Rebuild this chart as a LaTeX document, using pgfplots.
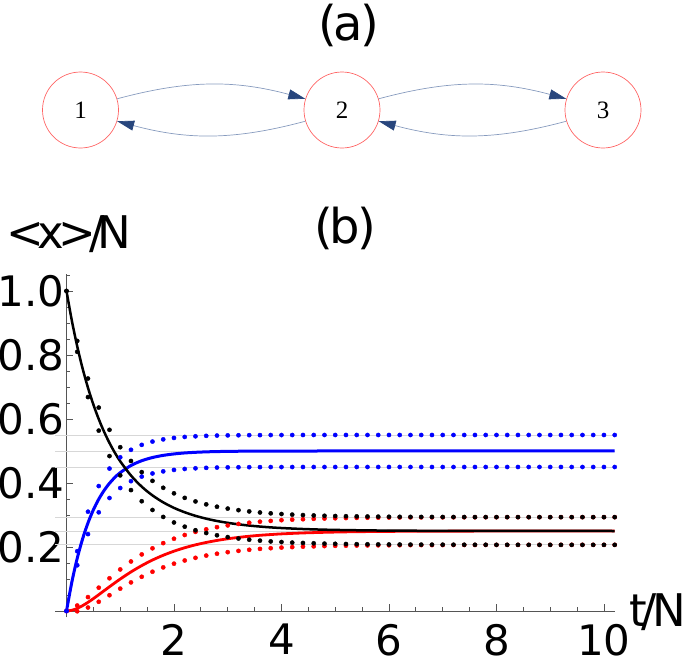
\documentclass[border=0pt]{standalone}
\usepackage{fontspec}
\setmainfont{DejaVu Sans}
\newfontfamily\nodefont{Liberation Serif}
\usepackage{pgfplots}
\pgfplotsset{compat=1.18}
\usepackage{pgfplotstable}
\usetikzlibrary{arrows.meta}

\definecolor{edgeline}{RGB}{135,155,190}
\definecolor{edgehead}{RGB}{40,70,125}
\definecolor{ring}{RGB}{255,100,100}
\definecolor{gridgray}{RGB}{215,215,215}
\definecolor{axisgray}{RGB}{85,85,85}

% mean occupation of the three states
\pgfplotstableread{
t    p1     p2     p3
0.0  1.0000 0.0000 0.0000
0.1  0.9071 0.0906 0.0023
0.2  0.8269 0.1649 0.0082
0.3  0.7576 0.2256 0.0168
0.4  0.6975 0.2753 0.0272
0.5  0.6452 0.3161 0.0387
0.6  0.5997 0.3494 0.0509
0.7  0.5600 0.3767 0.0634
0.8  0.5251 0.3991 0.0758
0.9  0.4946 0.4174 0.0880
1.0  0.4678 0.4323 0.0999
1.2  0.4233 0.4547 0.1221
1.4  0.3885 0.4696 0.1419
1.6  0.3612 0.4796 0.1593
1.8  0.3395 0.4863 0.1742
2.0  0.3222 0.4908 0.1869
2.2  0.3085 0.4939 0.1977
2.4  0.2974 0.4959 0.2067
2.6  0.2885 0.4973 0.2142
2.8  0.2813 0.4982 0.2205
3.0  0.2755 0.4988 0.2257
3.2  0.2708 0.4992 0.2300
3.4  0.2670 0.4995 0.2336
3.6  0.2639 0.4996 0.2366
3.8  0.2613 0.4998 0.2389
4.0  0.2593 0.4998 0.2410
4.4  0.2562 0.4999 0.2439
4.8  0.2541 0.5000 0.2459
5.2  0.2528 0.5000 0.2473
5.6  0.2519 0.5000 0.2482
6.0  0.2512 0.5000 0.2488
6.5  0.2508 0.5000 0.2492
7.0  0.2505 0.5000 0.2495
8.0  0.2502 0.5000 0.2498
9.0  0.2501 0.5000 0.2499
10.2 0.2500 0.5000 0.2500
}\means

% mean +/- one standard deviation (k = state 1, b = state 2, r = state 3)
\pgfplotstableread{
t    ku     kl     bu     bl     ru     rl
0.0  1.0000 1.0000 0.0000 0.0000 0.0000 0.0000
0.2  0.8439 0.8099 0.1869 0.1429 0.0172 -0.0008
0.4  0.7265 0.6685 0.3103 0.2403 0.0435 0.0109
0.6  0.6357 0.5637 0.3904 0.3084 0.0729 0.0289
0.8  0.5661 0.4841 0.4451 0.3531 0.1023 0.0493
1.0  0.5118 0.4238 0.4803 0.3843 0.1299 0.0699
1.2  0.4688 0.3778 0.5037 0.4057 0.1548 0.0894
1.4  0.4340 0.3430 0.5191 0.4201 0.1768 0.1070
1.6  0.4067 0.3157 0.5294 0.4298 0.1959 0.1227
1.8  0.3850 0.2940 0.5363 0.4363 0.2121 0.1363
2.0  0.3677 0.2767 0.5408 0.4408 0.2259 0.1479
2.2  0.3535 0.2635 0.5439 0.4439 0.2375 0.1579
2.4  0.3424 0.2524 0.5459 0.4459 0.2472 0.1662
2.6  0.3333 0.2437 0.5473 0.4473 0.2552 0.1732
2.8  0.3259 0.2367 0.5482 0.4482 0.2620 0.1790
3.0  0.3200 0.2310 0.5488 0.4488 0.2675 0.1839
3.2  0.3151 0.2265 0.5492 0.4492 0.2721 0.1879
3.4  0.3112 0.2228 0.5495 0.4495 0.2759 0.1913
3.6  0.3079 0.2199 0.5496 0.4496 0.2791 0.1941
3.8  0.3052 0.2174 0.5498 0.4498 0.2815 0.1963
4.0  0.3031 0.2155 0.5498 0.4498 0.2838 0.1982
4.2  0.3012 0.2138 0.5499 0.4499 0.2855 0.1997
4.4  0.2998 0.2126 0.5500 0.4500 0.2868 0.2010
4.6  0.2986 0.2116 0.5500 0.4500 0.2880 0.2020
4.8  0.2976 0.2106 0.5500 0.4500 0.2890 0.2028
5.0  0.2968 0.2100 0.5500 0.4500 0.2898 0.2036
5.2  0.2962 0.2094 0.5500 0.4500 0.2905 0.2041
5.4  0.2957 0.2089 0.5500 0.4500 0.2910 0.2046
5.6  0.2953 0.2085 0.5500 0.4500 0.2914 0.2050
5.8  0.2949 0.2081 0.5500 0.4500 0.2918 0.2053
6.0  0.2945 0.2079 0.5500 0.4500 0.2921 0.2055
6.2  0.2943 0.2077 0.5500 0.4500 0.2923 0.2057
6.4  0.2941 0.2075 0.5500 0.4500 0.2925 0.2059
6.6  0.2940 0.2074 0.5500 0.4500 0.2926 0.2060
6.8  0.2939 0.2073 0.5500 0.4500 0.2927 0.2061
7.0  0.2938 0.2072 0.5500 0.4500 0.2928 0.2062
7.2  0.2937 0.2071 0.5500 0.4500 0.2929 0.2063
7.4  0.2936 0.2070 0.5500 0.4500 0.2930 0.2064
7.6  0.2935 0.2069 0.5500 0.4500 0.2930 0.2064
7.8  0.2935 0.2069 0.5500 0.4500 0.2931 0.2065
8.0  0.2934 0.2068 0.5500 0.4500 0.2931 0.2065
8.2  0.2934 0.2068 0.5500 0.4500 0.2932 0.2066
8.4  0.2934 0.2068 0.5500 0.4500 0.2932 0.2066
8.6  0.2933 0.2067 0.5500 0.4500 0.2932 0.2066
8.8  0.2933 0.2067 0.5500 0.4500 0.2932 0.2066
9.0  0.2933 0.2067 0.5500 0.4500 0.2933 0.2067
9.2  0.2933 0.2067 0.5500 0.4500 0.2933 0.2067
9.4  0.2933 0.2067 0.5500 0.4500 0.2933 0.2067
9.6  0.2933 0.2067 0.5500 0.4500 0.2933 0.2067
9.8  0.2933 0.2067 0.5500 0.4500 0.2933 0.2067
10.0 0.2933 0.2067 0.5500 0.4500 0.2933 0.2067
10.2 0.2933 0.2067 0.5500 0.4500 0.2933 0.2067
}\bands

\begin{document}
\begin{tikzpicture}
\path[use as bounding box] (0pt,0pt) rectangle (685pt,-662pt);

% (a): the three-state chain
\node[anchor=base,inner sep=0pt,font=\fontsize{48}{48}\selectfont] at (348.5pt,-40.7pt) {(\kern-3pt a\kern-3pt)};
\tikzset{state/.style={circle,draw=ring,line width=0.7pt,minimum size=76pt,inner sep=0pt,font=\nodefont\fontsize{25}{25}\selectfont}}
\node[state] (n1) at (80.5pt,-110pt) {1};
\node[state] (n2) at (342pt,-110pt) {2};
\node[state] (n3) at (603pt,-110pt) {3};
\tikzset{edge/.style={draw=edgeline,line width=0.7pt,-{Triangle[length=17pt,width=10pt,color=edgehead]}}}
\draw[edge] (n1.17) to[bend left=15] (n2.163);
\draw[edge] (n2.197) to[bend left=15] (n1.343);
\draw[edge] (n2.17) to[bend left=15] (n3.163);
\draw[edge] (n3.197) to[bend left=15] (n2.343);

% (b)
\node[anchor=base,inner sep=0pt,font=\fontsize{48}{48}\selectfont] at (345pt,-243.7pt) {(\kern-3pt b\kern-3pt)};
\node[anchor=base west,inner sep=0pt,font=\fontsize{45}{45}\selectfont] at (6.5pt,-248pt) {<\kern-6.5pt x\kern-6.5pt >\kern-6.5pt /\kern-6.5pt N};
\node[anchor=base west,inner sep=0pt,font=\fontsize{45}{45}\selectfont] at (629pt,-626pt) {t\kern-5pt /\kern-5pt N};

\begin{axis}[
  at={(55.2pt,-617.4pt)}, anchor=south west,
  scale only axis, width=559.5pt, height=343.4pt,
  xmin=-0.21, xmax=10.2, ymin=-0.02, ymax=1.053,
  axis lines=middle,
  axis line style={draw=axisgray,line width=0.9pt,-},
  clip=false,
  xtick={2,4,6,8,10}, xticklabels={2,4,6,8,10},
  ytick={0.2,0.4,0.6,0.8,1.0}, yticklabels={0.2,0.4,0.6,0.8,1.0},
  minor xtick={0.5,1,1.5,2.5,3,3.5,4.5,5,5.5,6.5,7,7.5,8.5,9,9.5},
  minor ytick={0.05,0.1,0.15,0.25,0.3,0.35,0.45,0.5,0.55,0.65,0.7,0.75,0.85,0.9,0.95,1.05},
  tick align=inside,
  major tick length=7pt, minor tick length=4pt,
  tick style={draw=axisgray,line width=0.8pt},
  tick label style={font=\fontsize{42}{42}\selectfont, inner sep=0pt},
  xticklabel style={anchor=north, yshift=-13pt},
  yticklabel style={anchor=east, xshift=-2pt},
  extra y ticks={0.2067,0.25,0.2933,0.45,0.5,0.55},
  extra y tick labels={},
  extra y tick style={grid=major, major tick length=0pt},
  major grid style={draw=gridgray,line width=0.9pt},
]
\addplot[red, line width=2.8pt, smooth] table[x=t,y=p3] {\means};
\addplot[blue, line width=3pt, smooth] table[x=t,y=p2] {\means};
\addplot[black, line width=2.5pt, smooth] table[x=t,y=p1] {\means};
\addplot[red, only marks, mark=*, mark size=2.1pt] table[x=t,y=ru] {\bands};
\addplot[red, only marks, mark=*, mark size=2.1pt] table[x=t,y=rl] {\bands};
\addplot[blue, only marks, mark=*, mark size=2.1pt] table[x=t,y=bu] {\bands};
\addplot[blue, only marks, mark=*, mark size=2.1pt] table[x=t,y=bl] {\bands};
\addplot[black, only marks, mark=*, mark size=2.1pt] table[x=t,y=ku] {\bands};
\addplot[black, only marks, mark=*, mark size=2.1pt] table[x=t,y=kl] {\bands};
\end{axis}
\end{tikzpicture}
\end{document}
